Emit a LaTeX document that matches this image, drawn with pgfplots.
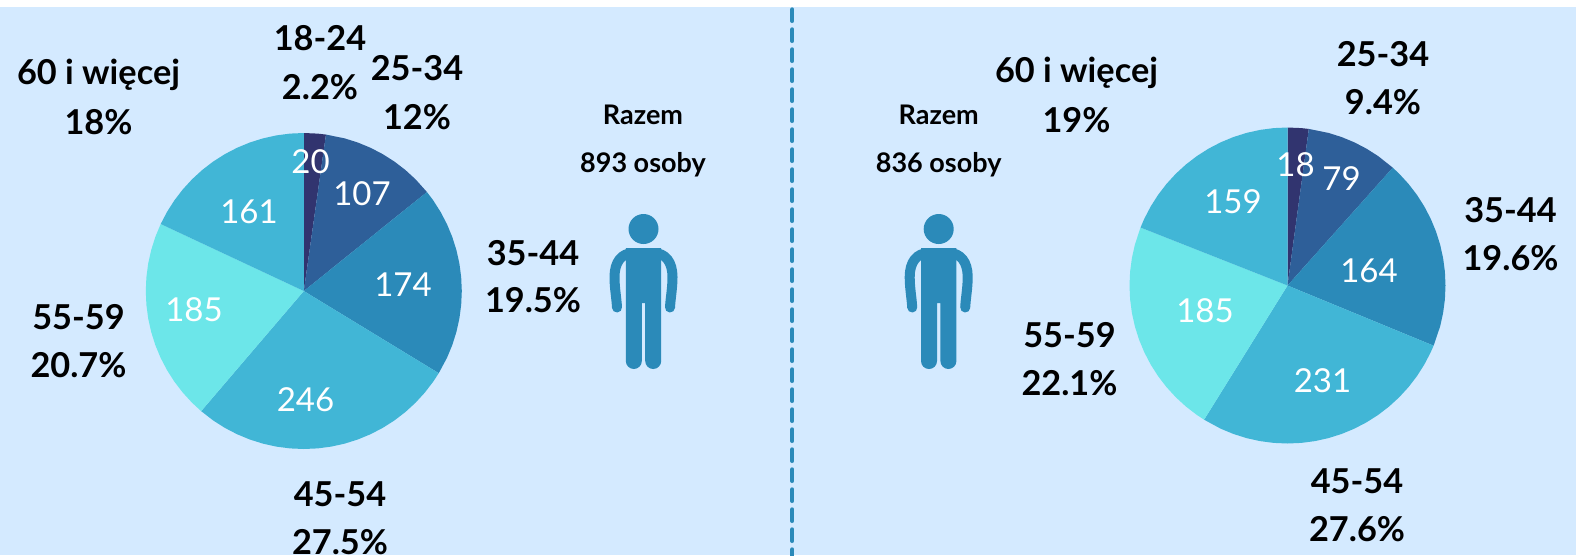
\documentclass[border=0pt]{standalone}
\usepackage{pgfplots}
\pgfplotsset{compat=1.18}
\usepackage{fontspec}
\setmainfont{Lato}
\definecolor{bgc}{HTML}{D4EAFF}
\definecolor{c1}{HTML}{31346F}
\definecolor{c2}{HTML}{2E5F99}
\definecolor{c3}{HTML}{2B8AB9}
\definecolor{c4}{HTML}{41B6D6}
\definecolor{c5}{HTML}{6CE6E9}
\definecolor{c6}{HTML}{41B6D6}
\pgfplotsset{pie/.style={x=1pt,y=1pt,xmin=-160,xmax=160,ymin=-160,ymax=160,hide axis,clip=false,anchor=center,
  every axis plot/.append style={no markers,draw=none,data cs=polar}}}
\newcommand{\lab}[3]{\node[font=\fontsize{34.3}{34.3}\selectfont\bfseries,text=black] at (#1,#2) {#3};}
\newcommand{\val}[3]{\node[font=\fontsize{33}{33}\selectfont,text=white] at (#1,#2) {#3};}
\newcommand{\sml}[3]{\node[font=\fontsize{27}{27}\selectfont\bfseries,text=black] at (#1,#2) {#3};}
\newcommand{\person}[1]{%
  \begin{scope}[shift={(#1,0)}]
  \fill[c3] (0,229) circle (15);
  \fill[c3] (-17.7,248) -- (17.7,248) -- (17.7,361) arc[start angle=0,end angle=-180,x radius=8,y radius=-8] -- (1.7,303) -- (-1.7,303) -- (-1.7,361) arc[start angle=0,end angle=-180,x radius=8,y radius=-8] -- cycle;
  \draw[c3,line width=10pt,line cap=round] (-10,253) .. controls (-22,253) and (-29,262) .. (-29,277) .. controls (-29,288) and (-27,298) .. (-26.5,307.5);
  \draw[c3,line width=10pt,line cap=round] (10,253) .. controls (22,253) and (29,262) .. (29,277) .. controls (29,288) and (27,298) .. (26.5,307.5);
  \end{scope}}
\begin{document}
\begin{tikzpicture}
\path[use as bounding box,fill=white] (0,0) rectangle (1576pt,-555pt);
\fill[bgc] (0,-7pt) rectangle (1576pt,-555pt);

% left pie: 20, 107, 174, 246, 185, 161 (total 893)
\begin{axis}[pie,at={(303.8pt,-291pt)}]
\addplot[fill=c1] coordinates {(0,0) (90,158) (85,158) (81.94,158)};
\addplot[fill=c2] coordinates {(0,0) (81.94,158) (75,158) (70,158) (65,158) (60,158) (55,158) (50,158) (45,158) (38.8,158)};
\addplot[fill=c3] coordinates {(0,0) (38.8,158) (35,158) (30,158) (25,158) (20,158) (15,158) (10,158) (5,158) (0,158) (-5,158) (-10,158) (-15,158) (-20,158) (-25,158) (-31.34,158)};
\addplot[fill=c4] coordinates {(0,0) (-31.34,158) (-35,158) (-40,158) (-45,158) (-50,158) (-55,158) (-60,158) (-65,158) (-70,158) (-75,158) (-80,158) (-85,158) (-90,158) (-95,158) (-100,158) (-105,158) (-110,158) (-115,158) (-120,158) (-125,158) (-130.51,158)};
\addplot[fill=c5] coordinates {(0,0) (-130.51,158) (-135,158) (-140,158) (-145,158) (-150,158) (-155,158) (-160,158) (-165,158) (-170,158) (-175,158) (-180,158) (-185,158) (-190,158) (-195,158) (-200,158) (-205.09,158)};
\addplot[fill=c6] coordinates {(0,0) (-205.09,158) (-210,158) (-215,158) (-220,158) (-225,158) (-230,158) (-235,158) (-240,158) (-245,158) (-250,158) (-255,158) (-260,158) (-265,158) (-270,158)};
\end{axis}

% right pie: 18, 79, 164, 231, 185, 159 (total 836)
\begin{axis}[pie,at={(1287.5pt,-285.5pt)}]
\addplot[fill=c1] coordinates {(0,0) (90,158) (85,158) (82.25,158)};
\addplot[fill=c2] coordinates {(0,0) (82.25,158) (75,158) (70,158) (65,158) (60,158) (55,158) (48.23,158)};
\addplot[fill=c3] coordinates {(0,0) (48.23,158) (45,158) (40,158) (35,158) (30,158) (25,158) (20,158) (15,158) (10,158) (5,158) (0,158) (-5,158) (-10,158) (-15,158) (-22.39,158)};
\addplot[fill=c4] coordinates {(0,0) (-22.39,158) (-25,158) (-30,158) (-35,158) (-40,158) (-45,158) (-50,158) (-55,158) (-60,158) (-65,158) (-70,158) (-75,158) (-80,158) (-85,158) (-90,158) (-95,158) (-100,158) (-105,158) (-110,158) (-115,158) (-121.87,158)};
\addplot[fill=c5] coordinates {(0,0) (-121.87,158) (-125,158) (-130,158) (-135,158) (-140,158) (-145,158) (-150,158) (-155,158) (-160,158) (-165,158) (-170,158) (-175,158) (-180,158) (-185,158) (-190,158) (-195,158) (-201.53,158)};
\addplot[fill=c6] coordinates {(0,0) (-201.53,158) (-205,158) (-210,158) (-215,158) (-220,158) (-225,158) (-230,158) (-235,158) (-240,158) (-245,158) (-250,158) (-255,158) (-260,158) (-265,158) (-270,158)};
\end{axis}

\begin{scope}[x=1pt,y=-1pt]
\draw[c3,line width=4pt,line cap=round,dash pattern=on 11.7pt off 8.3pt] (792.3,9.3) -- (792.3,556);
\person{643.5}
\person{938.7}
% left labels
\lab{320}{38.5}{18-24}\lab{320}{87}{2.2\%}
\lab{417}{68.5}{25-34}\lab{417}{117.5}{12\%}
\lab{98.5}{74.5}{60 i więcej}\lab{98.5}{122.5}{18\%}
\lab{533}{253.5}{35-44}\lab{533}{300.5}{19.5\%}
\lab{78.5}{317.5}{55-59}\lab{78.5}{365.5}{20.7\%}
\lab{340}{494.5}{45-54}\lab{340}{542.5}{27.5\%}
\sml{643}{115}{Razem}\sml{643}{164.5}{893 osoby}
\val{310.5}{161.5}{20}\val{362}{193.5}{107}\val{403}{284.5}{174}
\val{305.5}{399.5}{246}\val{194}{310}{185}\val{249}{211.5}{161}
% right labels
\lab{1383}{54.5}{25-34}\lab{1383}{102.5}{9.4\%}
\lab{1076.5}{72.5}{60 i więcej}\lab{1076.5}{120.5}{19\%}
\lab{1510.5}{210.5}{35-44}\lab{1510.5}{258.5}{19.6\%}
\lab{1069.5}{335.5}{55-59}\lab{1069.5}{383.5}{22.1\%}
\lab{1357}{481.5}{45-54}\lab{1357}{529}{27.6\%}
\sml{938.7}{115}{Razem}\sml{938.7}{164.5}{836 osoby}
\val{1295.5}{164.5}{18}\val{1341.5}{178.5}{79}\val{1369}{270.5}{164}
\val{1322.5}{380.5}{231}\val{1205}{311}{185}\val{1233}{201.5}{159}
\end{scope}
\end{tikzpicture}
\end{document}
